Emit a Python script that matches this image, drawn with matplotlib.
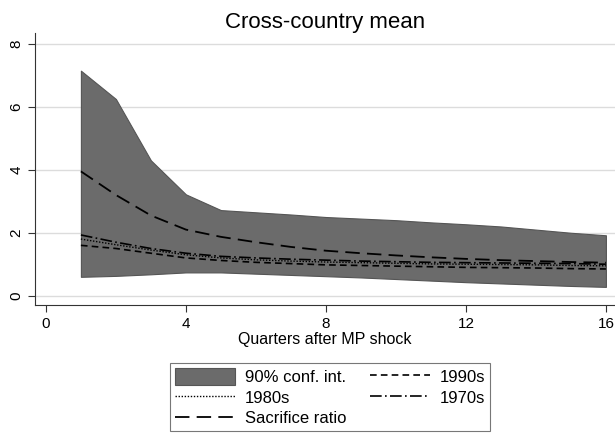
import numpy as np
import matplotlib.pyplot as plt
from matplotlib.patches import Patch
from matplotlib.lines import Line2D

# Quarters after monetary policy shock
quarters = list(range(1, 17))

# 90% confidence band
ci_upper = [7.15, 6.25, 4.3, 3.22, 2.72, 2.65, 2.58, 2.5, 2.45, 2.4, 2.33, 2.27, 2.2, 2.1, 2.0, 1.92]
ci_lower = [0.6, 0.63, 0.68, 0.74, 0.74, 0.7, 0.66, 0.62, 0.58, 0.53, 0.48, 0.43, 0.39, 0.35, 0.31, 0.28]

# point estimates
sacrifice_ratio = [3.95, 3.2, 2.55, 2.1, 1.87, 1.7, 1.55, 1.43, 1.35, 1.28, 1.22, 1.17, 1.13, 1.1, 1.07, 1.05]
s1970s = [1.93, 1.7, 1.5, 1.35, 1.25, 1.2, 1.16, 1.13, 1.1, 1.08, 1.06, 1.05, 1.04, 1.03, 1.02, 1.0]
s1980s = [1.8, 1.62, 1.45, 1.3, 1.2, 1.14, 1.1, 1.07, 1.05, 1.03, 1.01, 1.0, 0.99, 0.98, 0.96, 0.95]
s1990s = [1.6, 1.5, 1.35, 1.2, 1.12, 1.06, 1.02, 0.98, 0.96, 0.94, 0.92, 0.9, 0.89, 0.88, 0.86, 0.85]

xticks = [0, 4, 8, 12, 16]
yticks = [0, 2, 4, 6, 8]

plt.rcParams['font.family'] = ['Liberation Sans', 'DejaVu Sans']

fig = plt.figure(figsize=(6.15, 4.33), dpi=100)
ax = fig.add_axes([0.057, 0.296, 0.943, 0.628])

band_color = '#6b6b6b'
ax.fill_between(quarters, ci_lower, ci_upper, facecolor=band_color, edgecolor='#555555', linewidth=0.8, zorder=2)
ax.plot(quarters, sacrifice_ratio, color='black', linewidth=1.3, dashes=(8, 4), zorder=3)
ax.plot(quarters, s1990s, color='black', linewidth=1.2, dashes=(4, 2.5), zorder=3)
ax.plot(quarters, s1980s, color='black', linewidth=1.0, dashes=(1, 1.2), zorder=3)
ax.plot(quarters, s1970s, color='black', linewidth=1.2, dashes=(7, 2, 1, 2), zorder=3)

ax.set_xlim(-0.31, 16.26)
ax.set_ylim(-0.29, 8.35)
ax.set_xticks(xticks)
ax.set_yticks(yticks)
ax.set_yticklabels([str(v) for v in yticks], rotation=90, va='center')
ax.tick_params(labelsize=11, length=5, width=0.8, color='#333333')
ax.grid(axis='y', color='#dcdcdc', linewidth=1.0, zorder=0)
ax.set_axisbelow(True)
for side in ['top', 'right']:
    ax.spines[side].set_visible(False)
for side in ['left', 'bottom']:
    ax.spines[side].set_color('#333333')
    ax.spines[side].set_linewidth(0.8)

ax.set_xlabel('Quarters after MP shock', fontsize=11.5, labelpad=1)
ax.set_title('Cross-country mean', fontsize=16, pad=3)

handles = [
    Patch(facecolor=band_color, edgecolor='#555555', linewidth=0.8),
    Line2D([], [], color='black', linewidth=1.0, dashes=(1, 1.2)),
    Line2D([], [], color='black', linewidth=1.3, dashes=(8, 4)),
    Line2D([], [], color='black', linewidth=1.2, dashes=(4, 2.5)),
    Line2D([], [], color='black', linewidth=1.2, dashes=(7, 2, 1, 2)),
]
labels = ['90% conf. int.', '1980s', 'Sacrifice ratio', '1990s', '1970s']
leg = fig.legend(handles, labels, ncol=2, loc='upper left', bbox_to_anchor=(0.263, 0.18),
                 fontsize=12, frameon=True, fancybox=False, edgecolor='#555555',
                 handlelength=3.6, handleheight=1.15, columnspacing=1.4, labelspacing=0.22,
                 borderpad=0.3, handletextpad=0.6)
leg.get_frame().set_linewidth(0.8)

fig.savefig('out.png', dpi=100)
